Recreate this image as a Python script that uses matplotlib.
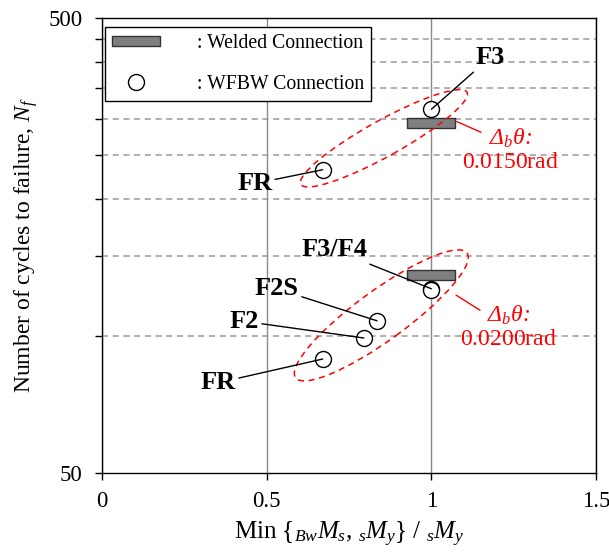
import numpy as np
import matplotlib.pyplot as plt
import matplotlib.transforms as mtransforms
from matplotlib.patches import Ellipse
from matplotlib.path import Path
from matplotlib.ticker import FixedLocator, NullFormatter

plt.rcParams['font.family'] = 'Liberation Serif'
plt.rcParams['mathtext.fontset'] = 'custom'
plt.rcParams['mathtext.rm'] = 'Liberation Serif'
plt.rcParams['mathtext.it'] = 'Liberation Serif:italic'
plt.rcParams['mathtext.bf'] = 'Liberation Serif:bold'

# Welded connection results (gray bars)
welded_x = [1.0, 1.0]
welded_y = [294, 136]

# WFBW connection results (circles)
wfbw_x = [1.0, 0.67, 1.0, 1.0, 0.835, 0.795, 0.67]
wfbw_y = [315, 232, 127, 126, 108, 99, 89]
wfbw_names = ['F3', 'FR', 'F3/F4', '', 'F2S', 'F2', 'FR']

# rotation amplitude groups
group_labels = ['0.0150rad', '0.0200rad']

x_ticks = [0, 0.5, 1, 1.5]
y_major = [50, 500]
y_minor = [100, 150, 200, 250, 300, 350, 400, 450]

fig = plt.figure(figsize=(6.09, 5.53), dpi=100)
ax = fig.add_axes([0.1675, 0.1447, 0.8112, 0.8228])

ax.set_yscale('log')
ax.set_xlim(0, 1.5)
ax.set_ylim(50, 500)

ax.xaxis.set_major_locator(FixedLocator(x_ticks))
ax.set_xticklabels(['%g' % t for t in x_ticks])
ax.yaxis.set_major_locator(FixedLocator(y_major))
ax.set_yticklabels([str(v) for v in y_major])
ax.yaxis.set_minor_locator(FixedLocator(y_minor))
ax.yaxis.set_minor_formatter(NullFormatter())
ax.xaxis.set_minor_locator(FixedLocator([]))

ax.tick_params(which='both', direction='out', length=5, width=1, labelsize=16.5)
ax.tick_params(axis='x', pad=8)
ax.tick_params(axis='y', pad=9)

ax.grid(which='minor', axis='y', color='#9a9a9a', lw=1.1, ls=(0, (4, 3)))
ax.grid(which='major', axis='x', color='#8a8a8a', lw=1.0, ls='-')
ax.set_axisbelow(True)
for s in ax.spines.values():
    s.set_linewidth(1.0)

# flat rectangle marker for welded specimens
bar = Path([(-24, -4.5), (24, -4.5), (24, 4.5), (-24, 4.5), (-24, -4.5)], closed=True)

ax.plot(welded_x, welded_y, ls='none', marker=bar, ms=34.6, mfc='#7f7f7f',
        mec='#333333', mew=1.0, label=': Welded Connection', zorder=3)
ax.plot(wfbw_x, wfbw_y, ls='none', marker='o', ms=11.5, mfc='white',
        mec='black', mew=1.0, label=': WFBW Connection', zorder=4)

# specimen labels
offsets = [(42, 37), (-49, -10), (-70, 28), None, (-72, 23), (-86, 12), (-75, -17)]
for x, y, name, off in zip(wfbw_x, wfbw_y, wfbw_names, offsets):
    if not name:
        continue
    ax.annotate(name, xy=(x, y), xytext=off, textcoords='offset points',
                ha='center', va='center', fontsize=19, fontweight='bold',
                zorder=6,
                arrowprops=dict(arrowstyle='-', color='black', lw=1.0,
                                shrinkA=0, shrinkB=0))

# dashed ellipses around each amplitude group
ell_specs = [((0.856, 272), 1.90, 0.36, 29), ((0.848, 111), 2.12, 0.50, 36)]
for (cx, cy), w, h, ang in ell_specs:
    tr = fig.dpi_scale_trans + mtransforms.ScaledTranslation(cx, cy, ax.transData)
    ax.add_patch(Ellipse((0, 0), w, h, angle=ang, transform=tr, fill=False,
                         edgecolor='red', lw=1.1, ls=(0, (4, 3)), zorder=5))

# amplitude labels with red leaders
lead_xy = [(1.077, 296), (1.075, 123)]
lead_off = [(38.5, -20.5), (37.5, -23)]
lead_rel = [(0.2, 0.88), (0.21, 0.86)]
for txt, xy, off, rel in zip(group_labels, lead_xy, lead_off, lead_rel):
    ax.annotate('Δ${}_{b}θ$:\n$\\mathrm{' + txt + '}$', xy=xy,
                xytext=off, textcoords='offset points', ha='center',
                va='center', color='red', fontsize=17, fontstyle='italic',
                zorder=6, linespacing=1.15,
                arrowprops=dict(arrowstyle='-', color='red', lw=1.0,
                                relpos=rel, patchA=None, shrinkA=0, shrinkB=0))

ax.set_xlabel(r'Min {${}_{Bw}M_s$, ${}_{s}M_y$} / ${}_{s}M_y$', fontsize=18, labelpad=6)
ax.set_ylabel(r'Number of cycles to failure, $N_f$', fontsize=17, labelpad=6)

leg = ax.legend(loc='upper left', bbox_to_anchor=(0.006, 0.98), borderaxespad=0,
                fancybox=False, edgecolor='black', framealpha=1, fontsize=14.2,
                numpoints=1, handlelength=2.4, handletextpad=1.9,
                labelspacing=1.1, borderpad=0.35)
leg.get_frame().set_linewidth(1.0)

fig.savefig('out.png', dpi=100)
